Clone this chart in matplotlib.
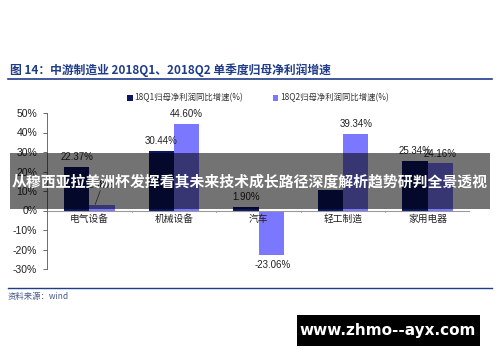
import matplotlib.pyplot as plt
import matplotlib.patches as patches
import numpy as np

plt.rcParams['font.family'] = ['Noto Sans CJK SC', 'DejaVu Sans']

# Data
categories = ['电气设备', '机械设备', '汽车', '轻工制造', '家用电器']
q1_growth = [22.37, 30.44, 1.90, 10.7, 25.34]
q2_growth = [2.68, 44.60, -23.06, 39.34, 24.16]
q1_labels = ['22.37%', '30.44%', '1.90%', '', '25.34%']
q2_labels = ['2.68%', '44.60%', '-23.06%', '39.34%', '24.16%']
yticks = [-30, -20, -10, 0, 10, 20, 30, 40, 50]

dark = '#0b1660'
light = '#7b78ff'
title_blue = '#1f3c88'

fig = plt.figure(figsize=(5, 3.62), dpi=100)
W, H = 500, 362

def fx(px):
    return px / W

def fy(py):
    return 1 - py / H

# Title and rules
fig.text(fx(10), fy(70), '图 14：中游制造业 2018Q1、2018Q2 单季度归母净利润增速',
         color=title_blue, fontsize=8.5, fontweight='bold', va='center', ha='left')
fig.add_artist(plt.Line2D([fx(8), fx(492)], [fy(79), fy(79)], color=title_blue, lw=1.2))
fig.add_artist(plt.Line2D([fx(8), fx(492)], [fy(288), fy(288)], color=title_blue, lw=1.0))
fig.text(fx(8), fy(296), '资料来源：wind', color='#4a5a8a', fontsize=6,
         style='italic', va='center', ha='left')

# Axes
ax = fig.add_axes([fx(47), fy(269), fx(470) - fx(47), fy(113) - fy(269)])
x = np.arange(len(categories))
w = 0.3
ax.bar(x - w / 2, q1_growth, w, color=dark, label='18Q1归母净利润同比增速(%)')
ax.bar(x + w / 2, q2_growth, w, color=light, label='18Q2归母净利润同比增速(%)')

ax.set_xlim(-0.5, len(categories) - 0.5)
ax.set_ylim(-30, 50)
ax.set_yticks(yticks)
ax.set_yticklabels([f'{v}%' for v in yticks], fontsize=7.5, color='#222222',
                   family=['Liberation Sans', 'DejaVu Sans'])
ax.set_xticks([])
for s in ['top', 'right', 'bottom']:
    ax.spines[s].set_visible(False)
ax.spines['left'].set_color('#555555')
ax.spines['left'].set_linewidth(0.6)
ax.tick_params(axis='y', length=3, width=0.6, color='#555555', pad=4)
ax.axhline(0, color='#999999', lw=0.8)
for b in np.arange(0.5, len(categories) - 0.5, 1):
    ax.plot([b, b], [0, -0.8], color='#999999', lw=0.6)

for i, c in enumerate(categories):
    ax.text(i, -1.8, c, ha='center', va='top', fontsize=7, color='#222222')

lab_font = dict(fontsize=7, color='#222222', family=['Liberation Sans', 'DejaVu Sans'])
for i in range(len(categories)):
    if q1_labels[i]:
        ax.text(x[i] - w / 2, q1_growth[i] + 2.5, q1_labels[i], ha='center', va='bottom', **lab_font)
    v = q2_growth[i]
    if i == 0:
        ax.text(x[i] + w / 2 - 0.02, v + 8, q2_labels[i], ha='center', va='bottom', **lab_font)
        ax.plot([x[i] + w / 2 - 0.08, x[i] + w / 2 - 0.02], [v + 0.5, v + 7.5], color='#444444', lw=0.5)
    elif v >= 0:
        ax.text(x[i] + w / 2, v + 2.5, q2_labels[i], ha='center', va='bottom', **lab_font)
    else:
        ax.text(x[i] + w / 2 + 0.02, v - 2.5, q2_labels[i], ha='center', va='top', **lab_font)

# Legend
leg = fig.legend(loc='center', bbox_to_anchor=(fx(258), fy(98)), ncol=2, frameon=False,
                 fontsize=6, handlelength=0.7, handleheight=0.7, handletextpad=0.2,
                 columnspacing=3.5)
for t in leg.get_texts():
    t.set_color('#333333')

# Grey overlay banner
fig.add_artist(patches.Rectangle((fx(10), fy(209)), fx(490) - fx(10), fy(153) - fy(209),
                                 transform=fig.transFigure, facecolor='#000000', alpha=0.55,
                                 edgecolor='none', zorder=5))
fig.text(0.5, fy(182), '从穆西亚拉美洲杯发挥看其未来技术成长路径深度解析趋势研判全景透视',
         ha='center', va='center', color='white', fontsize=10.7, fontweight='bold', zorder=6)

# Watermark box
fig.add_artist(patches.Rectangle((fx(297), fy(346)), fx(480) - fx(297), fy(315) - fy(346),
                                 transform=fig.transFigure, facecolor='black',
                                 edgecolor='none', zorder=5))
fig.text(fx(388), fy(331), 'www.zhmo--ayx.com', ha='center', va='center', color='white',
         fontsize=11, fontweight='bold', family=['DejaVu Sans'], zorder=6)

fig.savefig('out.png', dpi=100)
